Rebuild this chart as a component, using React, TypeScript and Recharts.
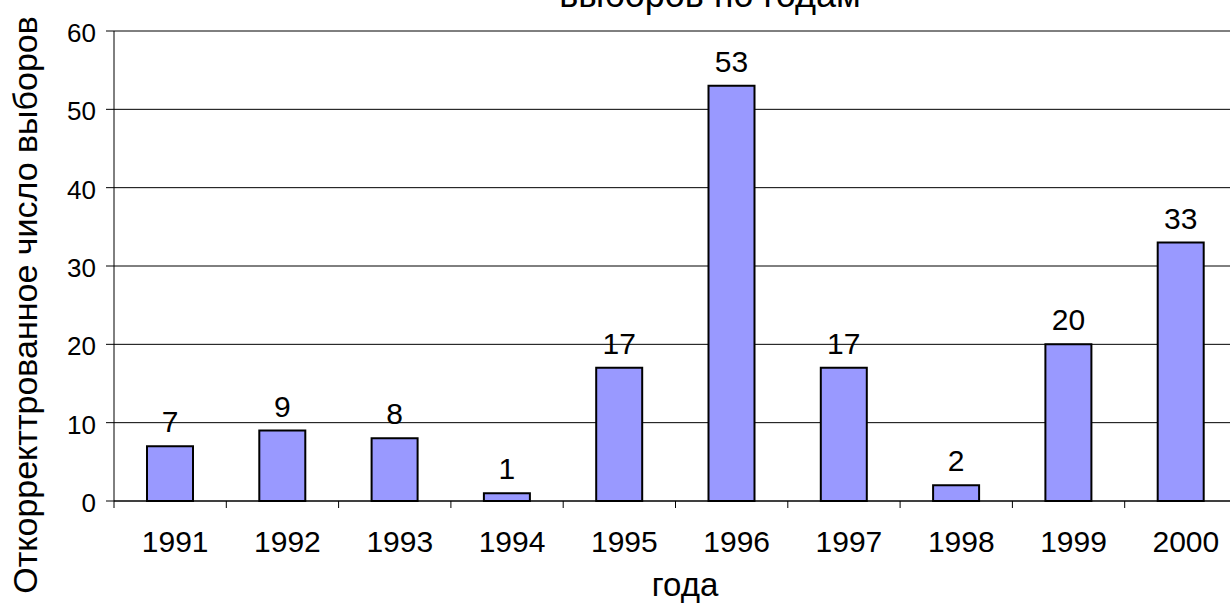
import React from 'react';
import { BarChart, Bar, XAxis, YAxis, CartesianGrid, LabelList, Customized } from 'recharts';

const years = ['1991', '1992', '1993', '1994', '1995', '1996', '1997', '1998', '1999', '2000'];
const counts = [7, 9, 8, 1, 17, 53, 17, 2, 20, 33];
const yTicks = [0, 10, 20, 30, 40, 50, 60];

const data = years.map((year, i) => ({ year, count: counts[i] }));

const FONT = '"Liberation Sans", Arial, sans-serif';
const CHART_W = 1237;
const CHART_H = 606;
const LEFT = 114;
const TOP = 31;
const X_AXIS_H = 105;
const PLOT_W = CHART_W - LEFT;
const BAND = PLOT_W / years.length;

// Category tick: label under the centre, tick marks on the category boundaries
const YearTick = (props: any) => {
  const { x, y, payload, index } = props;
  const left = x - BAND / 2;
  const right = x + BAND / 2;
  return (
    <g>
      <line x1={left} y1={y} x2={left} y2={y + 7} stroke="#000" strokeWidth={1} />
      {index === years.length - 1 && (
        <line x1={right} y1={y} x2={right} y2={y + 7} stroke="#000" strokeWidth={1} />
      )}
      <text x={x + 5} y={y + 51} textAnchor="middle" fontSize={30} fontFamily={FONT} fill="#000">
        {payload.value}
      </text>
    </g>
  );
};

const CountTick = (props: any) => {
  const { x, y, payload } = props;
  return (
    <text x={x} y={y + 11} textAnchor="end" fontSize={26} fontFamily={FONT} fill="#000">
      {payload.value}
    </text>
  );
};

const Titles = () => (
  <g fontFamily={FONT} fill="#000">
    <text x={710} y={7} textAnchor="middle" fontSize={36}>
      выборов по годам
    </text>
    <text x={685} y={596} textAnchor="middle" fontSize={33}>
      года
    </text>
    <text x={37} y={305} textAnchor="middle" fontSize={34} transform="rotate(-90 37 305)">
      Откорректтрованное число выборов
    </text>
  </g>
);

export default function App() {
  return (
    <div
      style={{
        position: 'fixed',
        left: 0,
        top: 0,
        width: 1230,
        height: 606,
        overflow: 'hidden',
        background: '#fff',
      }}
    >
      <BarChart
        width={CHART_W}
        height={CHART_H}
        data={data}
        margin={{ top: TOP, right: 0, bottom: 0, left: 0 }}
        barCategoryGap={0}
      >
        <CartesianGrid vertical={false} stroke="#000" strokeWidth={1} />
        <XAxis
          dataKey="year"
          height={X_AXIS_H}
          axisLine={{ stroke: '#000', strokeWidth: 1 }}
          tickLine={false}
          tickSize={0}
          tickMargin={0}
          interval={0}
          tick={<YearTick />}
        />
        <YAxis
          width={LEFT}
          domain={[0, 60]}
          ticks={yTicks}
          interval={0}
          axisLine={{ stroke: '#000', strokeWidth: 1 }}
          tickLine={{ stroke: '#000', strokeWidth: 1 }}
          tickSize={8}
          tickMargin={10}
          tick={<CountTick />}
        />
        <Bar dataKey="count" fill="#9999FF" stroke="#000" strokeWidth={2} barSize={46} isAnimationActive={false}>
          <LabelList dataKey="count" position="top" offset={14} fontSize={30} fontFamily={FONT} fill="#000" />
        </Bar>
        <Customized component={Titles} />
      </BarChart>
    </div>
  );
}
